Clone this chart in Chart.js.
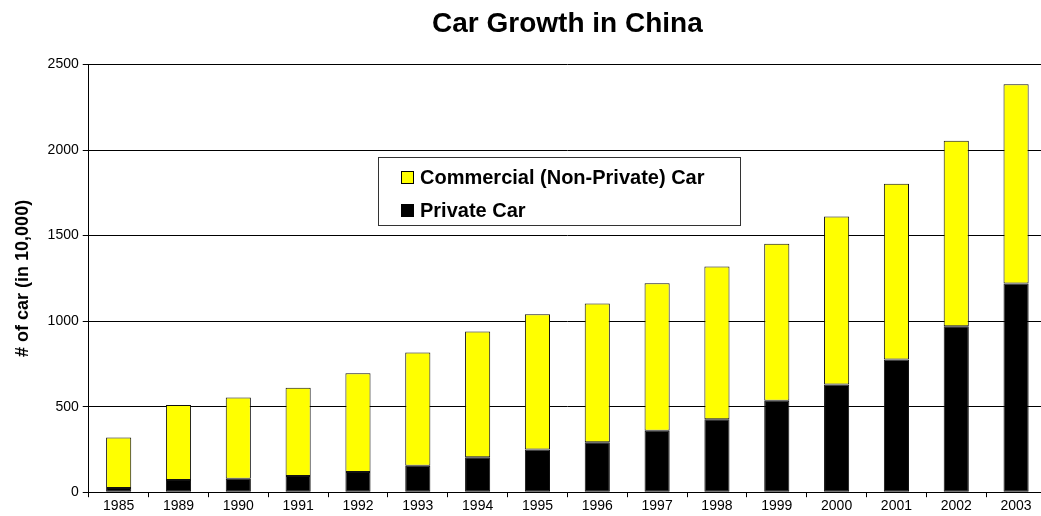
<!DOCTYPE html>
<html>
<head>
<meta charset="utf-8">
<script src="https://cdn.jsdelivr.net/npm/chart.js@4"></script>
<style>
  html, body { margin: 0; padding: 0; background: #fff; overflow: hidden; }
  #wrap { width: 1047px; height: 516px; }
</style>
</head>
<body>
<div id="wrap"><canvas id="chart-cars"></canvas></div>
<script>
var years = ['1985','1989','1990','1991','1992','1993','1994','1995','1996','1997','1998','1999','2000','2001','2002','2003'];
var privateCars = [25, 72, 78, 94, 118, 155, 204, 249, 292, 359, 427, 535, 629, 776, 970, 1220];
var totalCars = [320, 510, 553, 610, 695, 817, 940, 1040, 1103, 1222, 1320, 1452, 1612, 1803, 2055, 2385];
var commercialCars = totalCars.map(function (t, i) { return t - privateCars[i]; });

var FONT = "'Liberation Sans', Arial, sans-serif";

// legend drawn as a box inside the plot, like the original
var boxLegend = {
    id: 'boxLegend',
    afterDraw: function (chart) {
        var ctx = chart.ctx;
        var x = 378, y = 157, w = 362, h = 68;
        ctx.save();
        ctx.fillStyle = '#fff';
        ctx.fillRect(x, y, w, h);
        ctx.strokeStyle = '#333';
        ctx.lineWidth = 1;
        ctx.strokeRect(x + 0.5, y + 0.5, w, h);
        var items = [
            { text: 'Commercial (Non-Private) Car', color: '#ffff00' },
            { text: 'Private Car', color: '#000000' }
        ];
        ctx.font = 'bold 20px ' + FONT;
        ctx.textBaseline = 'middle';
        items.forEach(function (it, i) {
            var cy = y + 20 + i * 33;
            ctx.fillStyle = it.color;
            ctx.fillRect(x + 23, cy - 6, 13, 13);
            ctx.strokeStyle = '#000';
            ctx.strokeRect(x + 23.5, cy - 5.5, 12, 12);
            ctx.fillStyle = '#000';
            ctx.fillText(it.text, x + 42, cy + 1);
        });
        ctx.restore();
    }
};

var config = {
    type: 'bar',
    data: {
        labels: years,
        datasets: [{
            label: 'Private Car',
            data: privateCars,
            backgroundColor: '#000000',
            borderColor: '#111111',
            borderWidth: 1,
            borderSkipped: false
        }, {
            label: 'Commercial (Non-Private) Car',
            data: commercialCars,
            backgroundColor: '#ffff00',
            borderColor: '#111111',
            borderWidth: 1,
            borderSkipped: false
        }]
    },
    options: {
        responsive: true,
        maintainAspectRatio: false,
        animation: false,
        layout: { padding: { left: 8, right: 1, top: 4, bottom: 0 } },
        datasets: { bar: { categoryPercentage: 1.0, barPercentage: 0.42 } },
        plugins: {
            legend: { display: false },
            tooltip: { enabled: false },
            title: {
                display: true,
                fullSize: false,
                text: 'Car Growth in China',
                color: '#000',
                font: { family: FONT, size: 28, weight: 'bold' },
                padding: { top: 3, bottom: 24 }
            }
        },
        scales: {
            x: {
                stacked: true,
                border: { color: '#000', width: 1 },
                grid: { drawOnChartArea: false, color: '#000', tickLength: 5 },
                ticks: { color: '#000', font: { family: FONT, size: 14 }, maxRotation: 0, padding: 1 }
            },
            y: {
                stacked: true,
                min: 0,
                max: 2500,
                border: { color: '#000', width: 1 },
                grid: { color: '#000', tickLength: 6 },
                ticks: {
                    stepSize: 500,
                    color: '#000',
                    font: { family: FONT, size: 14 },
                    padding: 4,
                    callback: function (v) { return String(v); }
                },
                title: {
                    display: true,
                    text: '# of car (in 10,000)',
                    color: '#000',
                    font: { family: FONT, size: 18, weight: 'bold' },
                    padding: { bottom: 10 }
                }
            }
        }
    },
    plugins: [boxLegend]
};

var ctx = document.getElementById('chart-cars').getContext('2d');
new Chart(ctx, config);
</script>
</body>
</html>
